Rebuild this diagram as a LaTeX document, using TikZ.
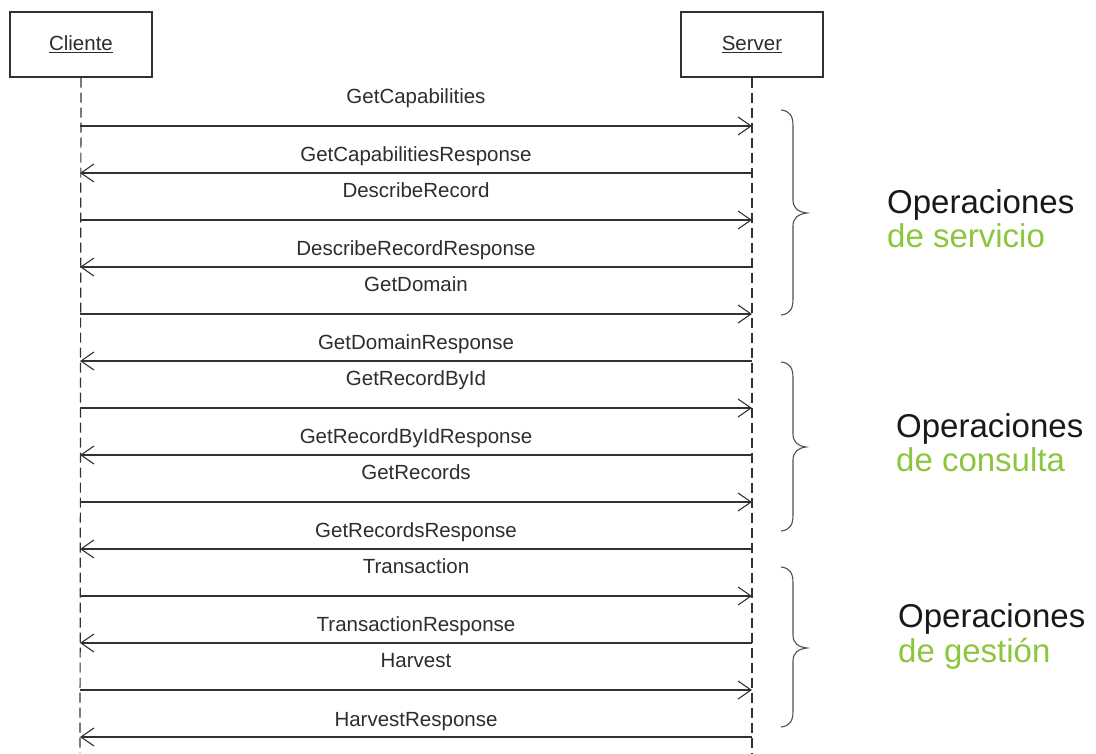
\documentclass[tikz,border=0pt]{standalone}
\usepackage{fontspec}
\setmainfont{Liberation Sans}
\usetikzlibrary{arrows.meta}
\definecolor{linegray}{RGB}{50,50,50}
\definecolor{textgray}{RGB}{45,45,45}
\definecolor{bracegray}{RGB}{80,80,80}
\definecolor{opgreen}{RGB}{140,198,63}
\tikzset{
  x=1pt, y=-1pt,
  actor/.style={draw=linegray, line width=1.3pt, minimum width=142pt, minimum height=65pt,
    inner sep=0pt, font=\fontsize{20.5}{22}\selectfont, text=textgray},
  lifeline/.style={draw=linegray, line width=1.2pt, dash pattern=on 10pt off 5pt},
  msg/.style={draw=linegray, line width=1.3pt,
    -{Straight Barb[length=13pt,width=18pt,line width=1.1pt]}},
  msglabel/.style={anchor=base, inner sep=0pt, font=\fontsize{20.5}{22}\selectfont, text=textgray},
  groupbrace/.style={draw=bracegray, line width=1.1pt},
  grouptitle/.style={anchor=base west, inner sep=0pt, font=\fontsize{33}{34}\selectfont, text=black!90},
  groupsub/.style={anchor=base west, inner sep=0pt, font=\fontsize{33}{34}\selectfont, text=opgreen},
}
\begin{document}
\begin{tikzpicture}
\useasboundingbox (0,0) rectangle (1096,753);

% participants
\node[actor] (cliente) at (81,44.5) {\underline{Cliente}};
\node[actor] (server) at (752,44.5) {\underline{Server}};

% lifelines
\coordinate (cend) at (80,753);
\coordinate (send) at (752,753);
\draw[lifeline] (cliente.south) -- (cend);
\draw[lifeline] (server.south) -- (send);

% anchor points of each message on both lifelines
\foreach \i in {0,...,13}{
  \coordinate (c\i) at (80,{126+47*\i});
  \coordinate (s\i) at (752,{126+47*\i});
}

% requests (client -> server) and responses (server -> client)
\foreach \i in {0,2,4,6,8,10,12}{ \draw[msg] (c\i) -- (s\i); }
\foreach \i in {1,3,5,7,9,11,13}{ \draw[msg] (s\i) -- (c\i); }

% message labels
\node[msglabel] (l0)  at (416,103) {GetCapabilities};
\node[msglabel] (l1)  at (416,161) {GetCapabilitiesResponse};
\node[msglabel] (l2)  at (416,197) {DescribeRecord};
\node[msglabel] (l3)  at (416,255) {DescribeRecordResponse};
\node[msglabel] (l4)  at (416,291) {GetDomain};
\node[msglabel] (l5)  at (416,349) {GetDomainResponse};
\node[msglabel] (l6)  at (416,385) {GetRecordById};
\node[msglabel] (l7)  at (416,443) {GetRecordByIdResponse};
\node[msglabel] (l8)  at (416,479) {GetRecords};
\node[msglabel] (l9)  at (416,537) {GetRecordsResponse};
\node[msglabel] (l10) at (416,573) {Transaction};
\node[msglabel] (l11) at (416,631) {TransactionResponse};
\node[msglabel] (l12) at (416,667) {Harvest};
\node[msglabel] (l13) at (416,726) {HarvestResponse};

% group braces
\draw[groupbrace] (781,110) .. controls (790,111) and (793,116) .. (793,126)
  -- (793,200) .. controls (793,208) and (798,212) .. (807,213)
  .. controls (798,214) and (793,218) .. (793,226)
  -- (793,299) .. controls (793,309) and (790,314) .. (781,315);
\draw[groupbrace] (781,362) .. controls (790,363) and (793,368) .. (793,378)
  -- (793,434) .. controls (793,442) and (798,446) .. (806,447)
  .. controls (798,448) and (793,452) .. (793,460)
  -- (793,515) .. controls (793,525) and (790,530) .. (781,531);
\draw[groupbrace] (781,567) .. controls (790,568) and (793,573) .. (793,583)
  -- (793,635) .. controls (793,643) and (798,647) .. (807,648)
  .. controls (798,649) and (793,653) .. (793,661)
  -- (793,711) .. controls (793,721) and (790,726) .. (781,727);

% group titles
\node[grouptitle] (g1a) at (887,213) {Operaciones};
\node[groupsub]   (g1b) at (887,247) {de servicio};
\node[grouptitle] (g2a) at (896,437) {Operaciones};
\node[groupsub]   (g2b) at (896,471) {de consulta};
\node[grouptitle] (g3a) at (898,627) {Operaciones};
\node[groupsub]   (g3b) at (898,662) {de gestión};
\end{tikzpicture}
\end{document}
